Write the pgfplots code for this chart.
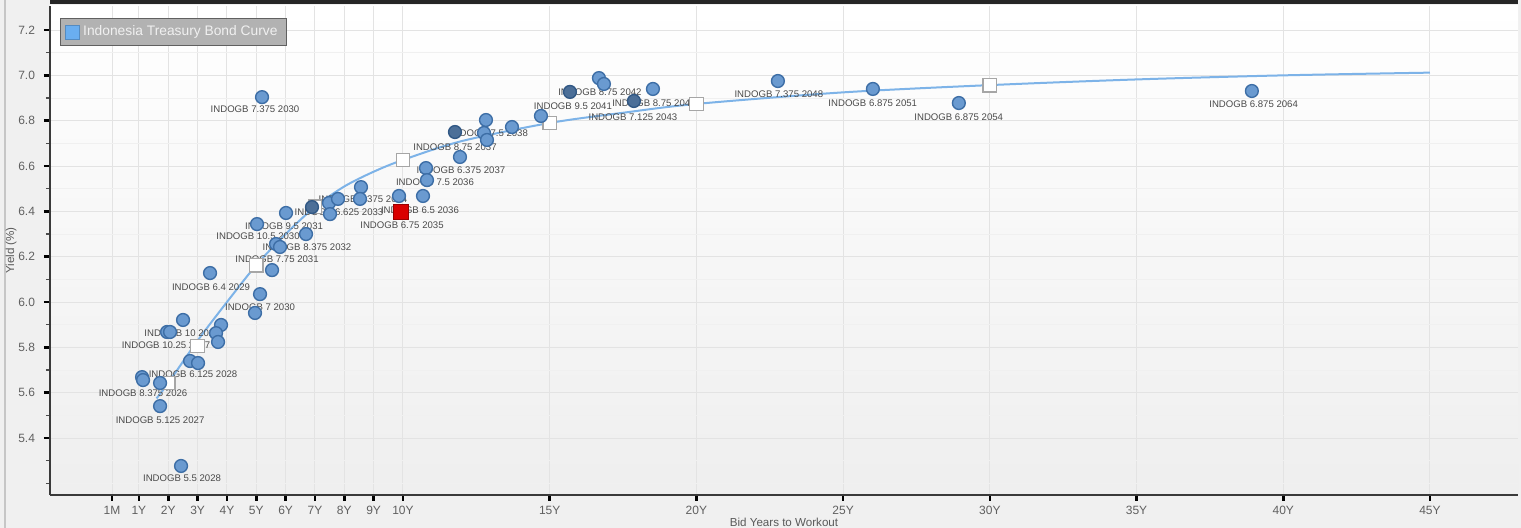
\documentclass[border=0pt]{standalone}
\usepackage{fontspec}
\setmainfont{Liberation Sans}
\usepackage{pgfplots}
\pgfplotsset{compat=1.18}
\usepackage{pgfplotstable}

\definecolor{bgc}{HTML}{F0F0F0}
\definecolor{ptfill}{HTML}{6A9AD0}
\definecolor{ptedge}{HTML}{3D6EA6}
\definecolor{ptdark}{HTML}{4C6F98}
\definecolor{curvec}{HTML}{7DB3E8}
\definecolor{lbl}{HTML}{4A4A4A}
\definecolor{axc}{HTML}{3A3A3A}
\definecolor{legsq}{HTML}{6AAEF0}

\pgfplotstableread[col sep=comma]{
x,y
5.196,6.904
5.026,6.344
6.014,6.393
5.673,6.256
5.809,6.243
6.695,6.300
5.537,6.141
3.424,6.128
5.128,6.035
4.957,5.952
2.504,5.921
3.799,5.899
1.959,5.868
2.061,5.868
3.629,5.863
3.697,5.824
2.743,5.740
3.015,5.731
1.107,5.669
1.141,5.656
1.721,5.643
1.721,5.541
2.436,5.277
7.479,6.437
7.513,6.388
7.785,6.455
8.569,6.507
8.535,6.455
9.864,6.468
10.682,6.468
10.784,6.591
10.818,6.538
11.942,6.640
12.828,6.803
12.760,6.746
12.862,6.715
13.714,6.772
14.702,6.821
16.678,6.988
16.848,6.962
18.518,6.940
22.777,6.975
26.014,6.940
28.944,6.878
38.930,6.931
}\bonds

\pgfplotstableread[col sep=comma]{
x,y
6.899,6.419
11.772,6.750
15.690,6.927
17.870,6.887
}\bondsdark

\pgfplotstableread[col sep=comma]{
x,y
1.6,5.575
2,5.643
3,5.830
4,6.000
5,6.163
6,6.300
7,6.420
8,6.510
9,6.575
10,6.627
12,6.710
15,6.790
17.5,6.835
20,6.874
25,6.925
30,6.957
35,6.982
40,7.000
45,7.012
}\curve

\pgfplotstableread[col sep=comma]{
x,y
2,5.643
3,5.806
5,6.163
7,6.420
10,6.627
15,6.790
20,6.874
30,6.957
}\nodesq

\pgfplotstableread[col sep=comma]{
x,y,label
4.957,6.852,INDOGB 7.375 2030
5.946,6.335,INDOGB 9.5 2031
5.060,6.291,INDOGB 10.5 2030
6.729,6.243,INDOGB 8.375 2032
5.707,6.190,INDOGB 7.75 2031
3.458,6.066,INDOGB 6.4 2029
5.128,5.978,INDOGB 7 2030
2.470,5.863,INDOGB 10 2028
1.925,5.811,INDOGB 10.25 2027
2.845,5.683,INDOGB 6.125 2028
1.141,5.599,INDOGB 8.375 2026
1.721,5.480,INDOGB 5.125 2027
2.470,5.224,INDOGB 5.5 2028
7.819,6.397,INDOGB 6.625 2033
8.637,6.455,INDOGB 8.375 2034
10.579,6.406,INDOGB 6.5 2036
9.966,6.340,INDOGB 6.75 2035
11.090,6.530,INDOGB 7.5 2036
11.976,6.582,INDOGB 6.375 2037
11.772,6.684,INDOGB 8.75 2037
12.930,6.746,INDOGB 7.5 2038
15.792,6.865,INDOGB 9.5 2041
16.712,6.927,INDOGB 8.75 2042
18.552,6.878,INDOGB 8.75 2044
17.836,6.816,INDOGB 7.125 2043
22.810,6.918,INDOGB 7.375 2048
26.010,6.878,INDOGB 6.875 2051
28.940,6.816,INDOGB 6.875 2054
38.990,6.874,INDOGB 6.875 2064
}\labels

\begin{document}
\begin{tikzpicture}
\path[use as bounding box, fill=bgc] (0,0) rectangle (760.5pt,264pt);
\draw[gray!45, line width=0.6pt] (2.5pt,0) -- (2.5pt,264pt);
\begin{axis}[
  at={(25pt,16.5pt)}, anchor=south west,
  scale only axis, width=734pt, height=244.5pt,
  xmin=-2.03, xmax=48, ymin=5.149, ymax=7.306,
  axis x line*=bottom, axis y line*=left,
  axis line style={axc, line width=1.2pt},
  axis background/.style={shade, top color=white, bottom color=gray!13},
  xtick={0.0833,1,2,3,4,5,6,7,8,9,10,15,20,25,30,35,40,45},
  xticklabels={1M,1Y,2Y,3Y,4Y,5Y,6Y,7Y,8Y,9Y,10Y,15Y,20Y,25Y,30Y,35Y,40Y,45Y},
  ytick={5.4,5.6,5.8,6.0,6.2,6.4,6.6,6.8,7.0,7.2},
  minor ytick={5.2,5.3,5.5,5.7,5.9,6.1,6.3,6.5,6.7,6.9,7.1},
  /pgf/number format/assume math mode=true,
  ticklabel style={font=\fontsize{6}{7}\selectfont, text=gray!75!black},
  xticklabel style={yshift=1pt},
  yticklabel style={xshift=-1pt, /pgf/number format/.cd, fixed, fixed zerofill, precision=1},
  tick align=outside,
  major tick length=3pt, minor tick length=2pt,
  major tick style={black, line width=1.3pt},
  minor tick style={black!70, line width=0.6pt},
  grid=both,
  major grid style={gray!22, line width=0.5pt},
  minor grid style={gray!12, line width=0.5pt},
  xlabel={Bid Years to Workout},
  ylabel={Yield (\%)},
  label style={font=\fontsize{5.8}{6.5}\selectfont, text=gray!70!black},
  xlabel style={yshift=5pt},
  ylabel style={yshift=-6pt},
  legend style={at={(0.0068,0.975)}, anchor=north west, fill=gray!60, draw=gray!75!black,
    line width=0.6pt, text=gray!12, font=\fontsize{6.9}{8}\selectfont,
    inner xsep=2.5pt, inner ysep=1.5pt},
  legend cell align=left,
  clip=false,
]
\addlegendimage{only marks, mark=square*, mark size=3.4pt, mark options={fill=legsq, draw=legsq!80!black, line width=0.3pt}}
\addlegendentry{Indonesia Treasury Bond Curve}
\addplot[curvec, line width=1pt, smooth, forget plot] table[x=x,y=y] {\curve};
\addplot[draw=none, forget plot, nodes near coords, point meta=explicit symbolic,
  nodes near coords style={anchor=center, font=\fontsize{4.8}{5}\selectfont, text=lbl, inner sep=0pt}]
  table[x=x,y=y,meta=label] {\labels};
\addplot[forget plot, only marks, mark=square*, mark size=3.4pt, mark options={fill=white, draw=gray!70, line width=0.6pt}]
  table[x=x,y=y] {\nodesq};
\addplot[forget plot, only marks, mark=*, mark size=3.2pt, mark options={fill=ptfill, draw=ptedge, line width=0.7pt}]
  table[x=x,y=y] {\bonds};
\addplot[forget plot, only marks, mark=*, mark size=3.2pt, mark options={fill=ptdark, draw=ptedge!80!black, line width=0.7pt}]
  table[x=x,y=y] {\bondsdark};
\addplot[forget plot, only marks, mark=square*, mark size=3.6pt, mark options={fill=red!85!black, draw=red!60!black, line width=0.5pt}]
  coordinates {(9.932,6.397)};
\end{axis}
\fill[gray!30!black] (25pt,262pt) rectangle (759pt,264pt);
\end{tikzpicture}
\end{document}
